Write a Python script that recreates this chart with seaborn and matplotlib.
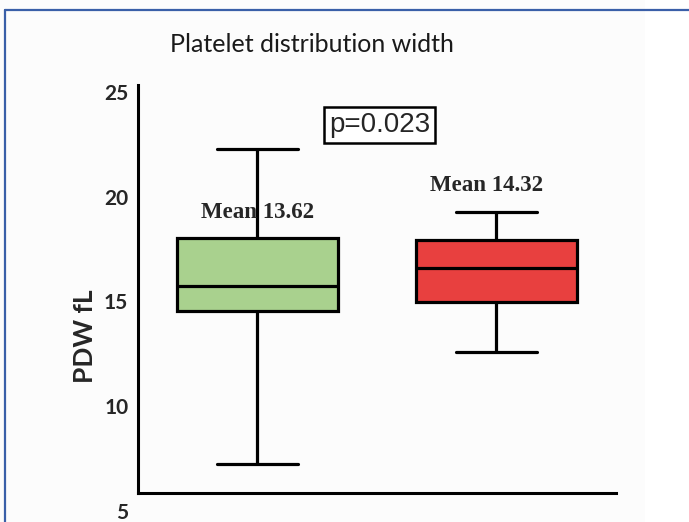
import seaborn as sns
import matplotlib.pyplot as plt
import pandas as pd
from matplotlib.lines import Line2D
from matplotlib.patches import Rectangle

# Daten: min, Q1, Median, Q3, max
groups = ["Group 1", "Group 2"]
group1_vals = [7.25, 14.55, 15.75, 18.05, 22.3]
group2_vals = [12.6, 14.95, 16.6, 17.95, 19.25]
means = [13.62, 14.32]
box_colors = ["#a9d18e", "#e8403f"]
p_text = "p=0.023"
yticks = [5, 10, 15, 20, 25]

df = pd.DataFrame({
    "group": [groups[0]] * len(group1_vals) + [groups[1]] * len(group2_vals),
    "pdw": group1_vals + group2_vals,
})

sns.set_style("white")
plt.rcParams["font.family"] = ["Lato", "DejaVu Sans"]

fig = plt.figure(figsize=(6.89, 5.22), dpi=100, facecolor="#fcfcfc")
ax = fig.add_axes([0.2003, 0.0215, 0.6937, 0.8155])
ax.set_facecolor("none")

sns.boxplot(data=df, x="group", y="pdw", hue="group", palette=box_colors,
            whis=(0, 100), width=0.67, linewidth=2.3, linecolor="black",
            saturation=1, legend=False, ax=ax)

ax.set_xlim(-0.5, 1.5)
ax.set_ylim(5, 25.33)
ax.set_yticks(yticks)
ax.set_yticklabels([str(t) for t in yticks], fontsize=15, fontweight="bold")
ax.set_xticklabels(["", ""])
ax.set_xlabel("")
ax.set_ylabel("PDW fL", fontsize=19, fontweight="bold")
ax.yaxis.set_label_coords(-0.085, 0.41)

sns.despine(ax=ax)
ax.spines["left"].set_bounds(5.86, 25.33)
ax.spines["bottom"].set_position(("data", 5.86))
for s in ["left", "bottom"]:
    ax.spines[s].set_linewidth(2.2)
    ax.spines[s].set_color("black")
ax.tick_params(axis="y", length=0, pad=7)
ax.tick_params(axis="x", length=6, width=1.8, direction="out", color="black")

# Mittelwerte
ax.text(0, 19.26, f"Mean {means[0]:.2f}", ha="center", va="center",
        fontsize=16.5, fontweight="bold", family="Liberation Serif")
ax.text(0.96, 20.54, f"Mean {means[1]:.2f}", ha="center", va="center",
        fontsize=16.5, fontweight="bold", family="Liberation Serif")

# p-Wert
ax.text(0.51, 23.43, p_text, ha="center", va="center", fontsize=20,
        family="Liberation Sans",
        bbox=dict(boxstyle="square,pad=0.18", facecolor="white",
                  edgecolor="black", linewidth=1.8))

fig.text(0.453, 0.914, "Platelet distribution width", ha="center", va="center",
         fontsize=18, color="#1a1a1a")

# Rahmen
fig.add_artist(Rectangle((645 / 689, 0), 1, 1, transform=fig.transFigure,
                         facecolor="white", edgecolor="none", zorder=-5))
fig.add_artist(Line2D([0.0073, 0.0073], [0, 0.981], color="#3a5fa8", lw=1.6))
fig.add_artist(Line2D([0.0073, 1], [0.981, 0.981], color="#3a5fa8", lw=1.6))

plt.savefig("out.png", dpi=100, facecolor=fig.get_facecolor())
